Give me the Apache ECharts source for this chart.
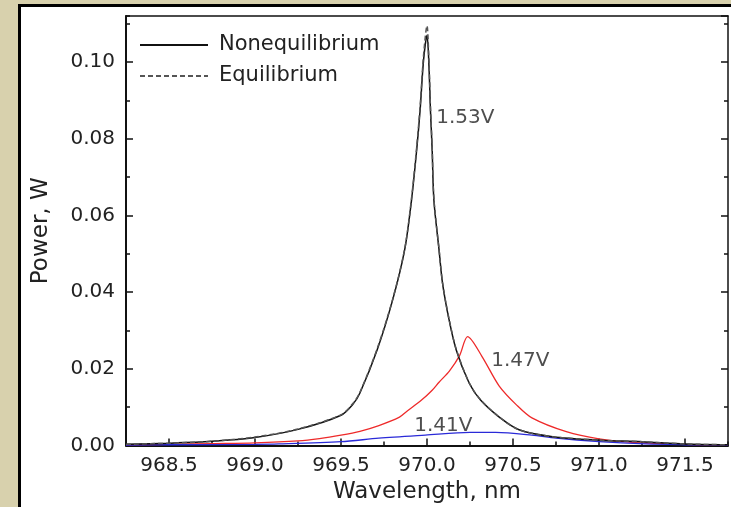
<!DOCTYPE html>
<html>
<head>
<meta charset="utf-8">
<script src="https://cdn.jsdelivr.net/npm/echarts@6/dist/echarts.min.js"></script>
<style>
html,body{margin:0;padding:0;background:#d8d1ad;}
#chart{width:731px;height:507px;}
</style>
</head>
<body>
<div id="chart"></div>
<script>
// Nonequilibrium (solid black)
const wlNoneq = [968.25, 968.5, 968.75, 969.0, 969.25, 969.5, 969.57, 969.61, 969.71, 969.8, 969.87, 969.91, 969.94, 969.96, 969.98, 970.0, 970.01, 970.02, 970.03, 970.04, 970.07, 970.09, 970.125, 970.17, 970.245, 970.31, 970.42, 970.535, 970.73, 971.0, 971.25, 971.5, 971.75];
const pNoneq  = [0.0003, 0.0006, 0.0011, 0.0021, 0.0042, 0.0079, 0.0108, 0.0137, 0.0249, 0.0379, 0.0510, 0.0640, 0.0771, 0.0875, 0.1005, 0.1070, 0.1005, 0.0875, 0.0771, 0.0640, 0.0510, 0.0424, 0.0335, 0.0249, 0.0163, 0.0119, 0.0074, 0.0041, 0.0023, 0.0014, 0.0010, 0.0004, 0.0002];
// Equilibrium (dashed)
const wlEq = [968.25, 968.5, 968.75, 969.0, 969.25, 969.5, 969.57, 969.61, 969.71, 969.8, 969.87, 969.91, 969.94, 969.96, 969.98, 970.0, 970.01, 970.02, 970.03, 970.04, 970.07, 970.09, 970.125, 970.17, 970.245, 970.31, 970.42, 970.535, 970.73, 971.0, 971.25, 971.5, 971.75];
const pEq  = [0.0003, 0.0006, 0.0011, 0.0022, 0.0043, 0.0080, 0.0110, 0.0139, 0.0252, 0.0381, 0.0512, 0.0645, 0.0778, 0.0885, 0.1018, 0.1095, 0.1020, 0.0885, 0.0778, 0.0645, 0.0512, 0.0426, 0.0337, 0.0251, 0.0164, 0.0120, 0.0074, 0.0041, 0.0023, 0.0014, 0.0010, 0.0004, 0.0002];
// 1.47V (red)
const wlRed = [968.25, 968.5, 968.75, 969.0, 969.25, 969.375, 969.5, 969.61, 969.72, 969.84, 969.88, 969.97, 970.03, 970.07, 970.13, 970.19, 970.236, 970.32, 970.42, 970.52, 970.61, 970.81, 971.0, 971.19, 971.5, 971.75];
const pRed  = [0.0002, 0.0003, 0.0005, 0.0007, 0.0012, 0.0018, 0.0027, 0.0037, 0.0052, 0.0074, 0.0088, 0.0119, 0.0144, 0.0165, 0.0194, 0.0235, 0.0284, 0.0232, 0.0155, 0.0106, 0.0072, 0.0036, 0.0017, 0.0008, 0.0003, 0.0001];
// 1.41V (blue)
const wlBlue = [968.25, 968.5, 969.0, 969.14, 969.5, 969.72, 969.99, 970.25, 970.4, 970.61, 970.75, 971.0, 971.27, 971.5, 971.75];
const pBlue  = [0.0001, 0.0002, 0.0003, 0.0004, 0.0010, 0.0019, 0.0027, 0.0034, 0.0034, 0.0027, 0.0019, 0.0010, 0.0004, 0.0002, 0.0001];
// annotations
const annText = ['1.53V', '1.47V', '1.41V'];
const annWl   = [970.054, 970.373, 969.926];
const annP    = [0.0854, 0.0220, 0.0051];

const xMin = 968.25, xMax = 971.75, yMin = 0, yMax = 0.112;
const zip = (a, b) => a.map((v, i) => [v, b[i]]);
const FONT = 'DejaVu Sans';
const TXT = '#222';

const chart = echarts.init(document.getElementById('chart'), null, {renderer: 'canvas'});
const lineAx = (w) => ({show: true, onZero: false, lineStyle: {color: '#111', width: w}});
const noSplit = {show: false};

chart.setOption({
  animation: false,
  backgroundColor: '#d8d1ad',
  textStyle: {fontFamily: FONT},
  graphic: {elements: [{
    type: 'rect', z: -100, silent: true,
    shape: {x: 19.5, y: 5.5, width: 730, height: 520},
    style: {fill: '#ffffff', stroke: '#000', lineWidth: 3}
  }]},
  grid: {left: 126, top: 16, right: 3, bottom: 61.5, outerBoundsMode: 'none'},
  legend: {
    data: ['Nonequilibrium', 'Equilibrium'],
    orient: 'vertical', left: 139, top: 34.5, padding: 0,
    itemWidth: 68, itemHeight: 14, itemGap: 10,
    itemStyle: {opacity: 0},
    textStyle: {fontSize: 21, color: TXT, fontFamily: FONT, padding: [0, 0, 0, 6]}
  },
  xAxis: [
    {type: 'value', min: xMin, max: xMax, splitNumber: 7, position: 'bottom',
     axisLine: lineAx(2), axisTick: {inside: true, length: 7, lineStyle: {color: '#111', width: 1.5}},
     axisLabel: {fontSize: 20, color: TXT, margin: 10, showMinLabel: false, showMaxLabel: false,
                 formatter: v => v.toFixed(1)},
     splitLine: noSplit,
     name: 'Wavelength, nm', nameLocation: 'middle', nameGap: 29,
     nameTextStyle: {fontSize: 23, color: TXT, fontFamily: FONT}},
    {type: 'value', min: xMin, max: xMax, interval: 0.25, position: 'bottom',
     axisLine: {show: false}, axisTick: {inside: true, length: 4, lineStyle: {color: '#111', width: 1.5}},
     axisLabel: {show: false}, splitLine: noSplit},
    {type: 'value', min: xMin, max: xMax, position: 'top',
     axisLine: lineAx(1.5), axisTick: {show: false}, axisLabel: {show: false}, splitLine: noSplit}
  ],
  yAxis: [
    {type: 'value', min: yMin, max: yMax, interval: 0.02, position: 'left',
     axisLine: lineAx(2), axisTick: {inside: true, length: 7, lineStyle: {color: '#111', width: 1.5}},
     axisLabel: {fontSize: 20, color: TXT, margin: 11, showMaxLabel: false, formatter: v => v.toFixed(2)},
     splitLine: noSplit,
     name: 'Power, W', nameLocation: 'middle', nameGap: 73,
     nameTextStyle: {fontSize: 23, color: TXT, fontFamily: FONT}},
    {type: 'value', min: yMin, max: yMax, interval: 0.01, position: 'left',
     axisLine: {show: false}, axisTick: {inside: true, length: 4, lineStyle: {color: '#111', width: 1.5}},
     axisLabel: {show: false}, splitLine: noSplit},
    {type: 'value', min: yMin, max: yMax, interval: 0.02, position: 'right',
     axisLine: lineAx(1.5), axisTick: {inside: true, length: 7, lineStyle: {color: '#111', width: 1.5}},
     axisLabel: {show: false}, splitLine: noSplit},
    {type: 'value', min: yMin, max: yMax, interval: 0.01, position: 'right',
     axisLine: {show: false}, axisTick: {inside: true, length: 4, lineStyle: {color: '#111', width: 1.5}},
     axisLabel: {show: false}, splitLine: noSplit}
  ],
  series: [
    {name: '1.47V', type: 'line', data: zip(wlRed, pRed), symbol: 'none', smooth: 0.3,
     lineStyle: {color: '#ee2a2a', width: 1.3}, z: 2},
    {name: '1.41V', type: 'line', data: zip(wlBlue, pBlue), symbol: 'none', smooth: 0.3,
     lineStyle: {color: '#2a2ad8', width: 1.3}, z: 2},
    {name: 'Nonequilibrium', type: 'line', data: zip(wlNoneq, pNoneq), symbol: 'none', smooth: 0.3,
     color: '#111', lineStyle: {color: '#111', width: 1.5}, z: 3},
    {name: 'Equilibrium', type: 'line', data: zip(wlEq, pEq), symbol: 'none', smooth: 0.3,
     color: '#555', lineStyle: {color: '#555', width: 1.5, type: [5, 3]}, z: 4},
    {name: 'labels', type: 'scatter', symbolSize: 0, silent: true, z: 5,
     data: annText.map((t, i) => ({value: [annWl[i], annP[i]], name: t})),
     label: {show: true, position: 'right', distance: 0, formatter: p => p.name,
             fontSize: 20, color: TXT, fontFamily: FONT}}
  ]
});
</script>
</body>
</html>
